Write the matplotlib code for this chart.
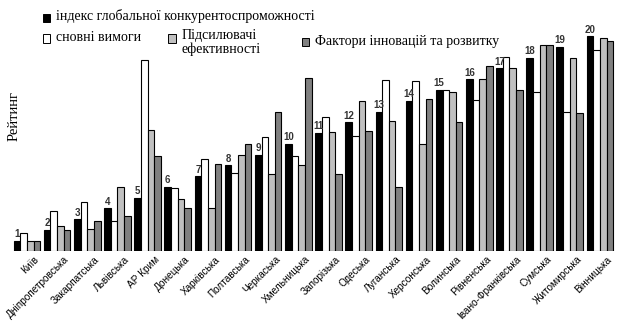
import matplotlib
matplotlib.use("Agg")
import matplotlib.pyplot as plt
import numpy as np

# regions and ranks by component
regions = ["Київ", "Дніпропетровська", "Закарпатська", "Львівська", "АР Крим",
           "Донецька", "Харківська", "Полтавська", "Черкаська", "Хмельницька",
           "Запорізька", "Одеська", "Луганська", "Херсонська", "Волинська",
           "Рівненська", "Івано-Франківська", "Сумська", "Житомирська", "Вінницька"]
index_rank = [1, 2, 3, 4, 5, 6, 7, 8, 9, 10, 11, 12, 13, 14, 15, 16, 17, 18, 19, 20]
basic_req = [1.7, 3.8, 4.6, 2.8, 17.8, 5.9, 8.6, 7.3, 10.6, 8.9,
             12.5, 10.7, 15.9, 15.8, 15.0, 14.1, 18.1, 14.8, 13.0, 18.7]
efficiency = [1.0, 2.4, 2.1, 6.0, 11.3, 4.9, 4.0, 9.0, 7.2, 8.0,
              11.1, 14.0, 12.1, 10.0, 14.8, 16.0, 17.0, 19.2, 18.0, 19.8]
innovation = [1.0, 2.0, 2.8, 3.3, 8.9, 4.0, 8.1, 10.0, 13.0, 16.1,
              7.2, 11.2, 6.0, 14.2, 12.0, 17.2, 15.0, 19.2, 12.9, 19.6]

series = [index_rank, basic_req, efficiency, innovation]
colors = ["#000000", "#ffffff", "#c0c0c0", "#808080"]
names = ["індекс глобальної конкурентоспроможності", "сновні вимоги",
         "Підсилювачі\nефективності", "Фактори інновацій та розвитку"]

serif = ["Liberation Serif", "DejaVu Serif"]
narrow = ["Liberation Sans Narrow", "Liberation Sans", "DejaVu Sans"]

fig = plt.figure(figsize=(6.25, 3.22), dpi=100)
ax = fig.add_axes([0.019, 0.219, 0.965, 0.702])

x = np.arange(len(regions))
w = 0.22
for k, (vals, c) in enumerate(zip(series, colors)):
    ax.bar(x + (k - 1.5) * w, vals, w, color=c, edgecolor="black", linewidth=0.8)

# rank numbers above the black bars
for i, v in enumerate(index_rank):
    ax.text(x[i] - 1.5 * w, v + 0.15, str(v), ha="center", va="bottom",
            fontsize=7, fontweight="bold", color="#333333", family=narrow)

ax.set_xlim(-0.5, len(regions) - 0.5)
ax.set_ylim(0, 21)
ax.set_yticks([])
ax.set_xticks(x + 0.22)
ax.set_xticklabels(regions, rotation=45, ha="right", va="top",
                   rotation_mode="anchor", fontsize=7.2, family=narrow)
ax.tick_params(axis="x", length=0, pad=2)
for s in ax.spines.values():
    s.set_visible(False)

fig.text(0.023, 0.64, "Рейтинг", rotation=90, ha="center", va="center",
         fontsize=10.5, family=serif)

# legend drawn by hand in the top area
legend_items = [(0.0685, 0.945, 0), (0.0685, 0.880, 1), (0.269, 0.880, 2), (0.483, 0.868, 3)]
for lx, ly, k in legend_items:
    fig.patches.append(plt.Rectangle((lx, ly - 0.012), 0.012, 0.025, transform=fig.transFigure,
                                     facecolor=colors[k], edgecolor="black", linewidth=0.7))
    fig.text(lx + 0.021, ly + 0.004, names[k], ha="left", va="center" if k != 2 else "top",
             fontsize=10, family=serif, linespacing=1.05)
fig.texts[-2].set_y(0.88 + 0.03)

fig.savefig("out.png", dpi=100)
